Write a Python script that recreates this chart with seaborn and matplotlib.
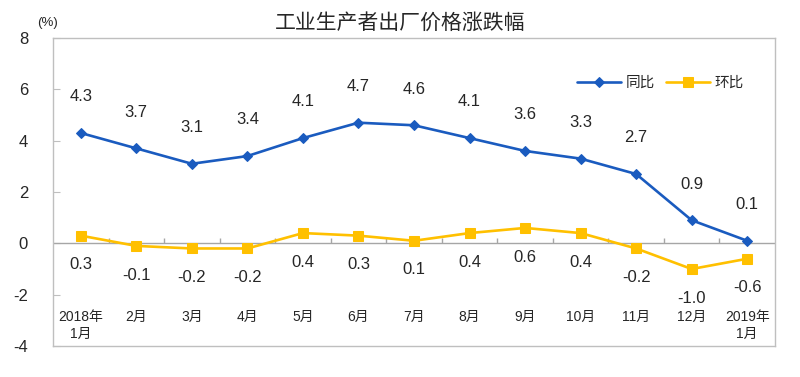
import numpy as np
import pandas as pd
import matplotlib
matplotlib.use('Agg')
import matplotlib.pyplot as plt
import seaborn as sns

# 数据
months = ['2018年\n1月', '2月', '3月', '4月', '5月', '6月', '7月', '8月', '9月', '10月', '11月', '12月', '2019年\n1月']
yoy = [4.3, 3.7, 3.1, 3.4, 4.1, 4.7, 4.6, 4.1, 3.6, 3.3, 2.7, 0.9, 0.1]
mom = [0.3, -0.1, -0.2, -0.2, 0.4, 0.3, 0.1, 0.4, 0.6, 0.4, -0.2, -1.0, -0.6]
yticks = [-4, -2, 0, 2, 4, 6, 8]

sns.set_style('white')
plt.rcParams['font.family'] = ['Liberation Sans', 'Noto Sans CJK SC', 'DejaVu Sans']

blue = '#1a5bbf'
yellow = '#ffc000'
gray = '#bfbfbf'

df = pd.DataFrame({'x': np.arange(len(months)), 'yoy': yoy, 'mom': mom})

fig = plt.figure(figsize=(8, 3.77), dpi=100)
ax = fig.add_axes([0.06625, 0.0822, 0.9025, 0.817])

sns.lineplot(data=df, x='x', y='yoy', ax=ax, color=blue, lw=1.9, marker='D', markersize=5,
             markeredgecolor=blue, label='同比', zorder=3)
sns.lineplot(data=df, x='x', y='mom', ax=ax, color=yellow, lw=1.9, marker='s', markersize=7,
             markeredgecolor=yellow, label='环比', zorder=3)

# 数据标签
for i, v in enumerate(yoy):
    ax.annotate(f'{v:.1f}', (i, v), xytext=(0, 26), textcoords='offset points',
                ha='center', va='center', fontsize=12)
for i, v in enumerate(mom):
    ax.annotate(f'{v:.1f}', (i, v), xytext=(0, -21), textcoords='offset points',
                ha='center', va='center', fontsize=12)

# 零线与刻度
ax.axhline(0, color='#a6a6a6', lw=1, zorder=1)
ax.vlines(np.arange(1, len(months)) - 0.5, 0, 0.2, color='#a6a6a6', lw=1, zorder=1)

ax.set_xlim(-0.5, len(months) - 0.5)
ax.set_ylim(-4, 8)
ax.set_xticks([])
ax.set_yticks(yticks)
ax.set_yticklabels([str(t) for t in yticks], fontsize=12)
ax.tick_params(axis='y', direction='in', length=5, color=gray, pad=18, left=True)
ax.set_xlabel('')
ax.set_ylabel('')

for i, m in enumerate(months):
    ax.text(i, -2.6, m, ha='center', va='top', fontsize=10, linespacing=1.3)

for s in ax.spines.values():
    s.set_color(gray)
    s.set_linewidth(1)

ax.text(-0.022, 1.05, '(%)', transform=ax.transAxes, fontsize=9.5, ha='left', va='center')
fig.text(0.5, 0.94, '工业生产者出厂价格涨跌幅', ha='center', va='center', fontsize=15)

ax.legend(loc='upper right', bbox_to_anchor=(0.975, 0.92), ncol=2, frameon=False,
          fontsize=10.5, handlelength=3, columnspacing=0.8, handletextpad=0.3)

fig.savefig('out.png', dpi=100)
